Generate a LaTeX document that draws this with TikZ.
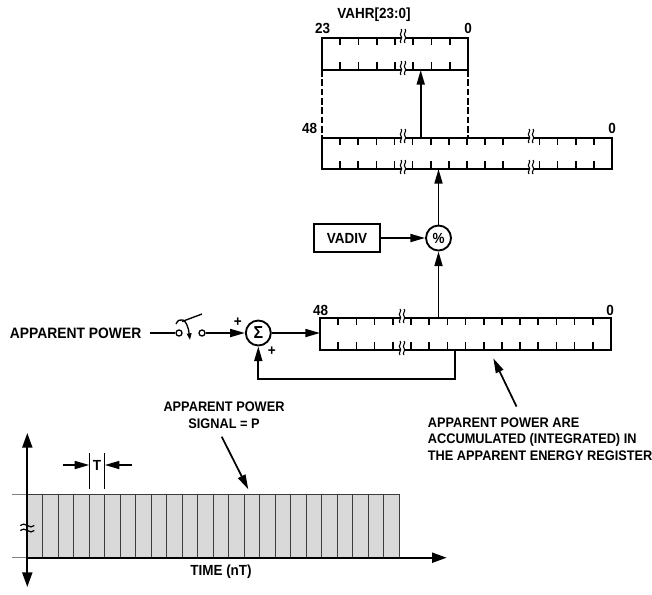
\documentclass[tikz,border=0pt]{standalone}
\usepackage{fontspec}
\setmainfont{Liberation Sans}[FakeStretch=0.92]
\usetikzlibrary{arrows.meta, positioning, calc}
\definecolor{sgray}{RGB}{217,217,217}
\definecolor{sline}{RGB}{60,60,60}

\tikzset{
    brk/.pic={
        \fill[white] (-2,-3) rectangle (2,3);
        \foreach \s in {-2,2}
            \draw[line width=0.8pt] (\s,-9) .. controls ({\s+2.5},-7) and ({\s-2.5},-4) .. (\s,-2) .. controls ({\s+2.5},0) and ({\s-2.5},3) .. (\s,5);
    },
    apx/.pic={
        \foreach \t in {-2.5,2.5}
            \draw[line width=0.9pt] (-7,\t) .. controls (-3,{\t-5}) and (3,{\t+5}) .. (7,\t);
    }
}

\begin{document}
\begin{tikzpicture}[
    x=0.75pt, y=-0.75pt,
    font=\bfseries\fontsize{11}{13}\selectfont,
    reg/.style={draw, line width=1.4pt, inner sep=0pt, outer sep=0pt, minimum height=24pt},
    tickln/.style={line width=1.2pt},
    op/.style={draw, circle, line width=1.4pt, inner sep=0pt, minimum size=18.75pt},
    contact/.style={draw, circle, line width=1pt, inner sep=0pt, minimum size=4.5pt},
    arr/.style={line width=1.3pt, -{Triangle[length=11pt,width=6pt]}},
    axarr/.style={line width=1.5pt, -{Triangle[length=11pt,width=7.5pt]}},
    stripln/.style={line width=0.8pt, sline},
    note/.style={font=\bfseries\fontsize{10.4}{12.5}\selectfont},
]
    \useasboundingbox (0,0) rectangle (652,594);

    % VAHR register
    \node[reg, minimum width=109.5pt] (vahr) at (395,54) {};
    \foreach \k in {1,...,7} {
        \draw[tickln] ($(vahr.north west)+(\k*18.25,0)$) -- ++(0,7);
        \draw[tickln] ($(vahr.south west)+(\k*18.25,0)$) -- ++(0,-8);
    }
    \pic at (403,38) {brk};
    \pic at (403,70) {brk};
    \node (vahrlbl) at (374,15) {VAHR[23:0]};
    \node (vahrhi) at (322.5,28) {23};
    \node (vahrlo) at (468,28) {0};

    % accumulation register
    \node[reg, minimum width=217.5pt, minimum height=23.25pt] (acc) at (467,153.5) {};
    \foreach \k in {1,...,10,12,13,14,15} {
        \draw[tickln] ($(acc.north west)+(\k*18.125,0)$) -- ++(0,7);
        \draw[tickln] ($(acc.south west)+(\k*18.125,0)$) -- ++(0,-8);
    }
    \pic at (403,138) {brk};
    \pic at (403,169) {brk};
    \pic at (531,138) {brk};
    \pic at (531,169) {brk};
    \node (acchi) at (309.5,128) {48};
    \node (acclo) at (612,128) {0};

    % links between the two upper registers
    \coordinate (upx) at (420.7,100);
    \draw[arr] (acc.north -| upx) -- (vahr.south -| upx);
    \draw[line width=1.1pt, dash pattern=on 5pt off 2pt] (vahr.south west) -- (acc.north west);
    \draw[line width=1.1pt, dash pattern=on 5pt off 2pt] (vahr.south east) -- (acc.north -| vahr.south east);

    % divider
    \node[op] (div) at (438.5,238) {\%};
    \node[draw, line width=1.4pt, minimum width=49.5pt, minimum height=21pt] (vadiv) at (347,238) {VADIV};
    \draw[arr] (vadiv) -- (div);
    \draw[arr] (div) -- (acc.south -| div);

    % energy register
    \node[reg, minimum width=218.25pt] (lower) at (465.5,334) {};
    \foreach \k in {1,...,15} {
        \draw[tickln] ($(lower.north west)+(\k*18.19,0)$) -- ++(0,7);
        \draw[tickln] ($(lower.south west)+(\k*18.19,0)$) -- ++(0,-8);
    }
    \pic at (402,318) {brk};
    \pic at (402,350) {brk};
    \node (lowhi) at (320.5,310) {48};
    \node (lowlo) at (610,310) {0};
    \draw[arr] (lower.north -| div) -- (div);

    % input, switch and adder
    \node[anchor=east, font=\bfseries\fontsize{11.3}{13}\selectfont] (inlbl) at (146,333) {APPARENT POWER};
    \node[contact] (sw1) at (179,333) {};
    \node[contact] (sw2) at (202,333) {};
    \node[op] (sigma) at (258.3,333) {\fontsize{13}{15}\selectfont Σ};
    \draw[line width=1.2pt, shorten <=3pt] (inlbl.east) -- (sw1);
    \draw[line width=1pt] (182,321.5) -- (202,314);
    \draw[line width=1pt, -{Triangle[length=5pt,width=3.5pt]}] (176,324) .. controls (179,317) and (187,317) .. (190,340);
    \draw[arr] (sw2) -- (sigma);
    \draw[arr] (sigma) -- (lower.west |- sigma);
    \node (plusa) at (237.7,321.7) {+};
    \node (plusb) at (271.7,351) {+};
    \coordinate (fbx) at (455,379);
    \draw[arr] (lower.south -| fbx) -- (fbx) -| (sigma);

    % note on the energy register
    \node[note, anchor=west, align=left, inner sep=2pt] (accnote) at (425,439) {APPARENT POWER ARE\\ACCUMULATED (INTEGRATED) IN\\THE APPARENT ENERGY REGISTER};
    \coordinate (acctail) at (516.5,406.5);
    \coordinate (acctip) at (493.3,358.3);
    \draw[arr] (acctail) -- (acctip);

    % power signal plot
    \fill[sgray] (27.3,494.3) rectangle (399,557.7);
    \foreach \i in {1,...,24}
        \draw[stripln] ({27.3+\i*15.49},494.3) -- ({27.3+\i*15.49},557.7);
    \draw[stripln] (27.3,494.3) -- (399,494.3);
    \draw[line width=0.8pt, gray] (12,494.3) -- (27.3,494.3);
    \draw[line width=0.8pt, gray] (12,557.7) -- (27.3,557.7);
    \coordinate (ytop) at (27.3,433);
    \coordinate (ybot) at (27.3,587);
    \coordinate (xo) at (27.3,557.7);
    \coordinate (xend) at (446.7,557.7);
    \draw[axarr, {Triangle[length=11pt,width=7.5pt]}-{Triangle[length=11pt,width=7.5pt]}] (ybot) -- (ytop);
    \draw[axarr] (xo) -- (xend);
    \pic at (27.3,528) {apx};

    % period marker
    \coordinate (t1) at (89.3,453);
    \coordinate (t2) at (104.8,453);
    \draw[line width=0.9pt] (t1) -- ++(0,36);
    \draw[line width=0.9pt] (t2) -- ++(0,36);
    \coordinate (tl) at (62.7,465);
    \coordinate (tr) at (131.7,465);
    \draw[arr] (tl) -- (t1 |- tl);
    \draw[arr] (tr) -- (t2 |- tr);
    \node (tlbl) at (97,465) {T};

    \node[note, align=center] (signote) at (224,415.5) {APPARENT POWER\\SIGNAL = P};
    \coordinate (sigtail) at (221.7,436.7);
    \coordinate (sigtip) at (248.3,489.3);
    \draw[arr] (sigtail) -- (sigtip);
    \node (timelbl) at (221,571.7) {TIME (nT)};
\end{tikzpicture}
\end{document}
